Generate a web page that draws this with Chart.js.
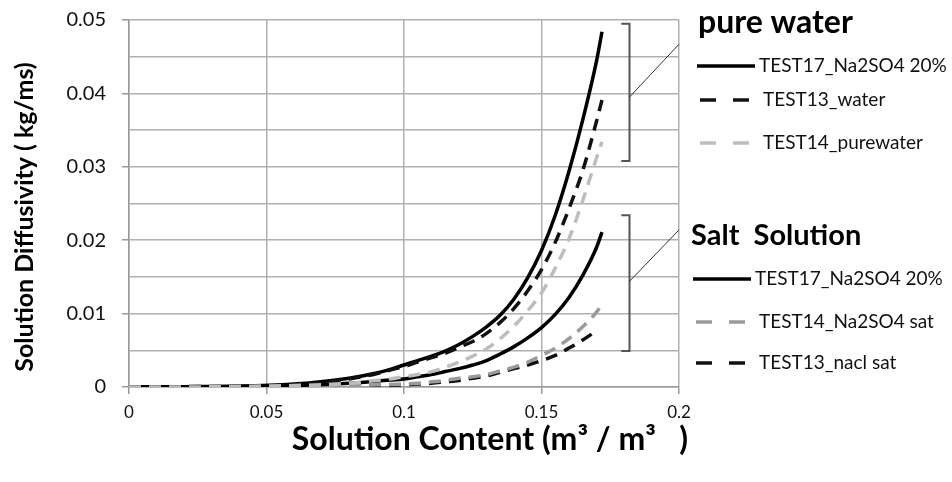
<!DOCTYPE html>
<html>
<head>
<meta charset="utf-8">
<script src="https://cdn.jsdelivr.net/npm/chart.js@4.4.1/dist/chart.umd.min.js"></script>
<style>
  html, body { margin: 0; padding: 0; background: #fff; }
  #wrap { width: 952px; height: 482px; position: relative; }
</style>
</head>
<body>
<div id="wrap"><canvas id="diffChart"></canvas></div>
<script>
// solution content (m3/m3)
const xContent = [0, 0.02, 0.04, 0.06, 0.08, 0.09, 0.095, 0.1, 0.105, 0.11, 0.115, 0.12, 0.125, 0.13, 0.135, 0.14, 0.145, 0.15, 0.155, 0.16, 0.165, 0.17, 0.172];
const xNacl = [0, 0.02, 0.04, 0.06, 0.08, 0.09, 0.095, 0.1, 0.105, 0.11, 0.115, 0.12, 0.125, 0.13, 0.135, 0.14, 0.145, 0.15, 0.155, 0.16, 0.165, 0.169];

// pure water
const pureNa2so4 = [0, 0.00005, 0.0001, 0.0004, 0.0012, 0.0019, 0.0024, 0.003, 0.0036, 0.0042, 0.0049, 0.0058, 0.0069, 0.0082, 0.0098, 0.012, 0.0149, 0.0186, 0.0234, 0.0294, 0.0364, 0.0444, 0.0484];
const pureWater13 = [0, 0.00005, 0.0001, 0.0003, 0.0011, 0.0018, 0.0023, 0.0028, 0.0034, 0.004, 0.0046, 0.0054, 0.0062, 0.0073, 0.0088, 0.0107, 0.0131, 0.016, 0.0197, 0.0243, 0.0295, 0.0362, 0.0391];
const pureWater14 = [0, 0, 0.0001, 0.0002, 0.0005, 0.0009, 0.0011, 0.0014, 0.0017, 0.0021, 0.0027, 0.0034, 0.0042, 0.0052, 0.0066, 0.0083, 0.0104, 0.0128, 0.0162, 0.0202, 0.0254, 0.0312, 0.0334];

// salt solution
const saltNa2so4 = [0, 0, 0.0001, 0.0002, 0.0005, 0.0008, 0.00095, 0.0011, 0.0014, 0.0017, 0.0021, 0.0025, 0.003, 0.0036, 0.0045, 0.0055, 0.0067, 0.0081, 0.0099, 0.0122, 0.0152, 0.019, 0.0211];
const saltNa2so4Sat = [0, 0, 0, 0.0001, 0.0002, 0.0003, 0.00035, 0.0004, 0.0005, 0.0007, 0.0009, 0.0012, 0.0014, 0.0017, 0.0022, 0.0027, 0.0034, 0.0043, 0.0053, 0.0066, 0.0082, 0.0102, 0.0113];
const saltNaclSat = [0, 0, 0, 0.0001, 0.0001, 0.0002, 0.00025, 0.0003, 0.0004, 0.0005, 0.0007, 0.0009, 0.0012, 0.0015, 0.002, 0.0025, 0.003, 0.0036, 0.0043, 0.0053, 0.0064, 0.0074];

const xTickLabels = ['0', '0.05', '0.1', '0.15', '0.2'];
const yTickLabels = ['0', '0.01', '0.02', '0.03', '0.04', '0.05'];

const toPoints = (xs, ys) => xs.map((x, i) => ({ x, y: ys[i] }));
const DASH = [12, 8];

function series(label, group, xs, ys, color, dash) {
  return {
    label, group,
    data: toPoints(xs, ys),
    borderColor: color,
    borderWidth: 3.5,
    borderDash: dash ? DASH : [],
    borderCapStyle: 'butt',
    cubicInterpolationMode: 'monotone',
    pointRadius: 0,
    fill: false,
  };
}

const datasets = [
  series('TEST14_purewater', 'pure', xContent, pureWater14, '#bdbdbd', true),
  series('TEST13_water', 'pure', xContent, pureWater13, '#111', true),
  series('TEST17_Na2SO4 20%', 'pure', xContent, pureNa2so4, '#000', false),
  series('TEST14_Na2SO4 sat', 'salt', xContent, saltNa2so4Sat, '#9a9a9a', true),
  series('TEST13_nacl sat', 'salt', xNacl, saltNaclSat, '#111', true),
  series('TEST17_Na2SO4 20%', 'salt', xContent, saltNa2so4, '#000', false),
];

const legendGroups = [
  { title: 'pure water', size: 32, group: 'pure', tx: 698, lx: 697, ty: 33, rows: [66, 100, 143],
    order: ['TEST17_Na2SO4 20%', 'TEST13_water', 'TEST14_purewater'] },
  { title: 'Salt  Solution', size: 29, group: 'salt', tx: 691, lx: 693, ty: 245, rows: [279, 322, 363],
    order: ['TEST17_Na2SO4 20%', 'TEST14_Na2SO4 sat', 'TEST13_nacl sat'] },
];

// brackets grouping the curve ends (data coords)
const brackets = [
  { x: 0.182, y0: 0.0495, y1: 0.0308, from: 0.0395, to: 0.0467 },
  { x: 0.182, y0: 0.0234, y1: 0.0049, from: 0.0144, to: 0.0214 },
];

const sideNotes = {
  id: 'sideNotes',
  afterDraw(chart) {
    const { ctx, scales: { x, y } } = chart;
    ctx.save();

    // brackets and leader lines
    brackets.forEach(b => {
      const bx = x.getPixelForValue(b.x);
      const stub = x.getPixelForValue(b.x - 0.003);
      ctx.strokeStyle = '#555';
      ctx.lineWidth = 2;
      ctx.beginPath();
      ctx.moveTo(stub, y.getPixelForValue(b.y0));
      ctx.lineTo(bx, y.getPixelForValue(b.y0));
      ctx.lineTo(bx, y.getPixelForValue(b.y1));
      ctx.lineTo(stub, y.getPixelForValue(b.y1));
      ctx.stroke();
      ctx.strokeStyle = '#333';
      ctx.lineWidth = 1;
      ctx.beginPath();
      ctx.moveTo(bx, y.getPixelForValue(b.from));
      ctx.lineTo(x.getPixelForValue(0.2), y.getPixelForValue(b.to));
      ctx.stroke();
    });

    // legend
    legendGroups.forEach(g => {
      ctx.fillStyle = '#000';
      ctx.font = `bold ${g.size}px Lato`;
      ctx.textAlign = 'left';
      ctx.textBaseline = 'alphabetic';
      ctx.fillText(g.title, g.tx, g.ty);
      g.order.forEach((label, i) => {
        const ds = chart.data.datasets.find(d => d.group === g.group && d.label === label);
        const ry = g.rows[i];
        const dashed = ds.borderDash.length > 0;
        ctx.strokeStyle = ds.borderColor;
        ctx.lineWidth = ds.borderWidth;
        ctx.setLineDash(dashed ? [16, 17] : []);
        ctx.beginPath();
        ctx.moveTo(g.lx + (dashed ? 3 : 0), ry);
        ctx.lineTo(g.lx + (dashed ? 53 : 58), ry);
        ctx.stroke();
        ctx.setLineDash([]);
        ctx.fillStyle = '#111';
        ctx.font = '19px Lato';
        ctx.textBaseline = 'middle';
        ctx.fillText(label, g.lx + (dashed ? 66 : 62), ry);
      });
    });

    // axis titles
    ctx.fillStyle = '#000';
    ctx.textAlign = 'center';
    ctx.textBaseline = 'middle';
    ctx.font = 'bold 32px Lato';
    ctx.fillText('Solution Content (m\u00B3 / m\u00B3   )', 490, 440);
    ctx.translate(25, 217);
    ctx.rotate(-Math.PI / 2);
    ctx.font = 'bold 25px Lato';
    ctx.fillText('Solution Diffusivity ( kg/ms)', 0, 0);
    ctx.restore();
  }
};

new Chart(document.getElementById('diffChart'), {
  type: 'line',
  data: { datasets },
  plugins: [sideNotes],
  options: {
    responsive: true, maintainAspectRatio: false, animation: false,
    layout: { padding: { left: 0, top: 20, right: 273, bottom: 0 } },
    plugins: { legend: { display: false }, tooltip: { enabled: false } },
    scales: {
      x: {
        type: 'linear', min: 0, max: 0.2,
        afterFit: s => { s.height = 95; s.paddingLeft = 0; s.paddingRight = 0; },
        grid: { color: '#b0b0b0', lineWidth: 1.5, tickLength: 7, tickColor: '#999' },
        border: { color: '#999', width: 1.5 },
        ticks: {
          stepSize: 0.05, padding: 8, color: '#111',
          font: { family: 'Lato', size: 17 },
          callback: (v, i) => xTickLabels[i],
        },
      },
      y: {
        min: 0, max: 0.05,
        afterFit: s => { s.width = 129; s.paddingTop = 0; s.paddingBottom = 0; },
        grid: {
          color: '#b0b0b0', lineWidth: 1.5, tickLength: 7,
          tickColor: c => (c.index % 2 === 0 ? '#999' : 'rgba(0,0,0,0)'),
        },
        border: { color: '#999', width: 1.5 },
        ticks: {
          stepSize: 0.005, padding: 16, color: '#111',
          font: { family: 'Lato', size: 20 },
          callback: (v, i) => (i % 2 === 0 ? yTickLabels[i / 2] : ''),
        },
      },
    },
  },
});
</script>
</body>
</html>
